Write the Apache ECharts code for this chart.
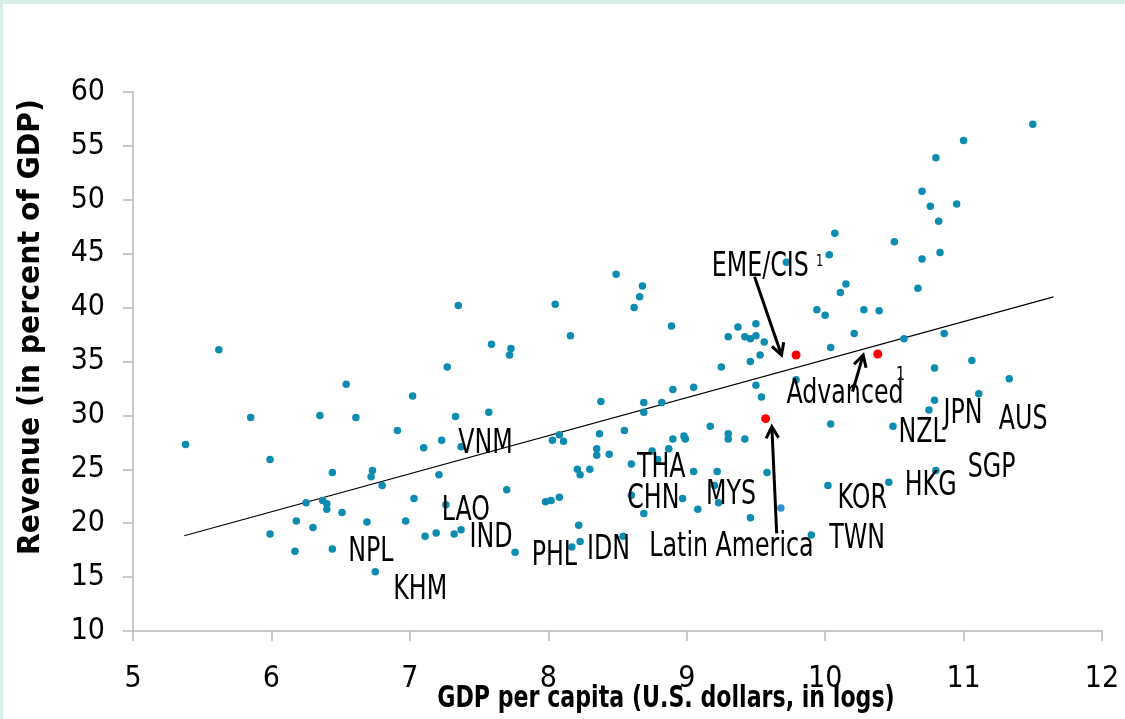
<!DOCTYPE html>
<html>
<head>
<meta charset="utf-8">
<script src="https://cdn.jsdelivr.net/npm/echarts@6/dist/echarts.min.js"></script>
<style>
html,body{margin:0;padding:0;background:#fff;}
#chart{width:1125px;height:719px;}
</style>
</head>
<body>
<div id="chart"></div>
<script>
// ---- Data ----
const gdpLog = [5.62,5.38,5.85,6.54,6.35,6.61,7.02,5.99,6.91,7.10,6.44,6.73,6.72,6.80,6.25,6.37,6.40,6.40,6.51,6.18,6.30,6.69,6.97,7.03,5.99,6.17,6.44,6.75,7.11,
  7.35,8.05,8.68,8.66,8.62,8.89,8.16,7.59,7.73,7.72,7.27,7.33,7.57,7.23,7.37,7.21,7.26,7.19,7.32,7.37,7.70,7.76,7.98,8.02,8.08,8.03,8.08,8.11,
  8.38,8.37,8.35,8.35,8.44,8.21,8.23,8.30,8.22,8.23,8.17,8.54,8.55,8.69,8.69,8.82,8.90,9.05,8.60,8.75,8.87,8.90,8.98,8.99,8.79,9.05,8.60,8.69,8.97,9.08,
  10.07,10.03,8.49,10.15,10.11,9.94,10.00,9.72,9.37,9.30,9.50,9.42,9.46,9.50,9.56,9.53,9.46,9.25,10.04,9.79,9.50,9.54,10.04,9.17,9.30,9.30,9.42,9.22,9.58,9.20,9.23,9.46,10.02,9.90,
  11.50,11.00,10.80,10.70,10.76,10.95,10.82,10.50,10.70,10.83,10.67,10.28,10.39,10.21,10.57,10.86,10.79,11.06,11.33,11.11,10.79,10.75,10.49,10.80,10.46];
const revenue = [36.1,27.3,29.8,32.9,30.0,29.8,31.8,25.9,28.6,27.0,24.7,24.9,24.3,23.5,21.9,22.1,21.8,21.3,21.0,20.2,19.6,20.1,20.2,22.3,19.0,17.4,17.6,15.5,18.8,
  40.2,40.3,42.0,41.0,40.0,38.3,37.4,36.6,36.2,35.6,34.5,29.9,30.3,27.7,27.1,24.5,21.7,19.1,19.0,19.4,23.1,17.3,22.0,22.1,22.4,27.7,28.2,27.6,
  31.3,28.3,26.9,26.3,26.4,25.0,24.5,25.0,19.8,18.3,17.8,18.8,28.6,31.2,30.3,31.2,32.4,32.6,25.5,26.7,26.9,27.8,28.1,27.8,25.9,24.8,22.6,20.9,22.3,21.3,
  46.9,44.9,43.1,42.2,41.4,39.8,39.3,44.2,38.2,37.3,38.5,37.3,37.1,37.4,36.8,35.6,35.0,34.5,36.3,33.3,32.8,31.7,29.2,29.0,28.3,27.8,27.8,24.8,24.7,23.5,21.9,20.5,23.5,18.9,
  57.0,55.5,53.9,50.8,49.4,49.6,48.0,46.1,44.5,45.1,41.8,39.8,39.7,37.6,37.1,37.6,34.4,35.1,33.4,32.0,31.4,30.5,29.0,24.9,23.8];
const otherGdp = [9.68];
const otherRev = [21.4];
const groupNames = ['EME/CIS','Advanced','Latin America'];
const groupGdp = [9.79,10.38,9.57];
const groupRev = [35.6,35.7,29.7];
const fitX = [5.37,11.65];
const fitY = [18.84,41.0];
const xTicks = [5,6,7,8,9,10,11,12];
const yTicks = [10,15,20,25,30,35,40,45,50,55,60];
const xTitle = 'GDP per capita (U.S. dollars, in logs)';
const yTitle = 'Revenue (in percent of GDP)';

// ---- Annotations (text anchor: left, vertical middle) ----
const annText = ['VNM','LAO','IND','PHL','IDN','THA','CHN','NPL','KHM','MYS','Latin America','EME/CIS','Advanced','NZL','JPN','AUS','SGP','HKG','KOR','TWN'];
const annX = [7.35,7.23,7.43,7.88,8.28,8.64,8.57,6.555,6.88,9.14,8.73,9.18,9.72,10.53,10.855,11.255,11.03,10.575,10.09,10.03];
const annY = [27.5,21.3,18.75,17.15,17.65,25.3,22.4,17.44,13.95,22.77,17.98,43.88,32.17,28.55,30.27,29.71,25.3,23.64,22.38,18.67];
const supX = [9.96,10.545];
const supY = [44.25,33.8];
// arrows: from (x1,y1) to tip (x2,y2)
const arrowFrom = [[9.49,42.86],[10.198,32.2],[9.65,19.06]];
const arrowTo = [[9.685,35.6],[10.275,35.6],[9.615,28.95]];

const FONT = '"DejaVu Sans Condensed","DejaVu Sans",sans-serif';

const chart = echarts.init(document.getElementById('chart'));
chart.setOption({
  animation:false,
  backgroundColor:'#ffffff',
  graphic:[
    {type:'rect',left:0,top:0,shape:{width:1125,height:4},style:{fill:'#d9efe6'},silent:true},
    {type:'rect',left:0,top:0,shape:{width:3,height:719},style:{fill:'#d9efe6'},silent:true},
    {type:'text',x:666,y:699,scaleX:0.82,silent:true,
     style:{text:xTitle,font:'bold 30px '+FONT,fill:'#000',align:'center',verticalAlign:'middle'}},
    {type:'text',x:31,y:327,rotation:Math.PI/2,scaleX:1.05,silent:true,
     style:{text:yTitle,font:'bold 30px '+FONT,fill:'#000',align:'center',verticalAlign:'middle'}}
  ],
  grid:{left:133,right:23,top:92,bottom:88,containLabel:false},
  xAxis:{
    type:'value',min:5,max:12,interval:1,
    axisLine:{show:true,lineStyle:{color:'#b8b8b8',width:1.5}},
    axisTick:{show:true,length:10,lineStyle:{color:'#b8b8b8',width:1.5}},
    axisLabel:{margin:33,fontFamily:FONT,fontSize:30,color:'#000',formatter:v=>xTicks.includes(v)?String(v):''},
    splitLine:{show:false}
  },
  yAxis:{
    type:'value',min:10,max:60,interval:5,
    axisLine:{show:true,lineStyle:{color:'#b8b8b8',width:1.5}},
    axisTick:{show:true,length:10,lineStyle:{color:'#b8b8b8',width:1.5}},
    axisLabel:{margin:28,fontFamily:FONT,fontSize:30,color:'#000',formatter:v=>yTicks.includes(v)?String(v):''},
    splitLine:{show:false}
  },
  series:[
    {type:'line',data:fitX.map((x,i)=>[x,fitY[i]]),symbol:'none',lineStyle:{color:'#000',width:1.2},z:2,silent:true},
    {type:'scatter',data:gdpLog.map((x,i)=>[x,revenue[i]]),symbolSize:7.5,itemStyle:{color:'#0b8cb0',opacity:1},z:3},
    {type:'scatter',data:otherGdp.map((x,i)=>[x,otherRev[i]]),symbolSize:7.5,itemStyle:{color:'#2f8fd6',opacity:1},z:3},
    {type:'scatter',data:groupGdp.map((x,i)=>[x,groupRev[i],groupNames[i]]),symbolSize:9,itemStyle:{color:'#ff0000',opacity:1},z:4},
    {type:'custom',z:5,silent:true,clip:false,
     data:annText.map((t,i)=>[annX[i],annY[i],t]),
     renderItem:function(params,api){
       const p=api.coord([api.value(0),api.value(1)]);
       return {type:'text',x:p[0],y:p[1]+2,scaleX:0.8,style:{text:annText[params.dataIndex],font:'33px '+FONT,fill:'#000',align:'left',verticalAlign:'middle'}};
     }},
    {type:'custom',z:5,silent:true,clip:false,
     data:supX.map((x,i)=>[x,supY[i]]),
     renderItem:function(params,api){
       const p=api.coord([api.value(0),api.value(1)]);
       const fs = params.dataIndex===0 ? 16 : 20;
       return {type:'text',x:p[0],y:p[1],scaleX:0.8,style:{text:'1',font:fs+'px '+FONT,fill:'#000',align:'center',verticalAlign:'middle'}};
     }},
    {type:'custom',z:6,silent:true,clip:false,
     data:arrowFrom.map((f,i)=>[f[0],f[1],arrowTo[i][0],arrowTo[i][1]]),
     renderItem:function(params,api){
       const a=api.coord([api.value(0),api.value(1)]);
       const b=api.coord([api.value(2),api.value(3)]);
       const ang=Math.atan2(b[1]-a[1],b[0]-a[0]);
       const L=13, s=0.5;
       const h1=[b[0]-L*Math.cos(ang-s),b[1]-L*Math.sin(ang-s)];
       const h2=[b[0]-L*Math.cos(ang+s),b[1]-L*Math.sin(ang+s)];
       return {type:'group',children:[
         {type:'line',shape:{x1:a[0],y1:a[1],x2:b[0]-2*Math.cos(ang),y2:b[1]-2*Math.sin(ang)},style:{stroke:'#000',lineWidth:3}},
         {type:'polyline',shape:{points:[h1,b,h2]},style:{stroke:'#000',lineWidth:3,fill:null,lineJoin:'miter'}}
       ]};
     }}
  ]
});
</script>
</body>
</html>
